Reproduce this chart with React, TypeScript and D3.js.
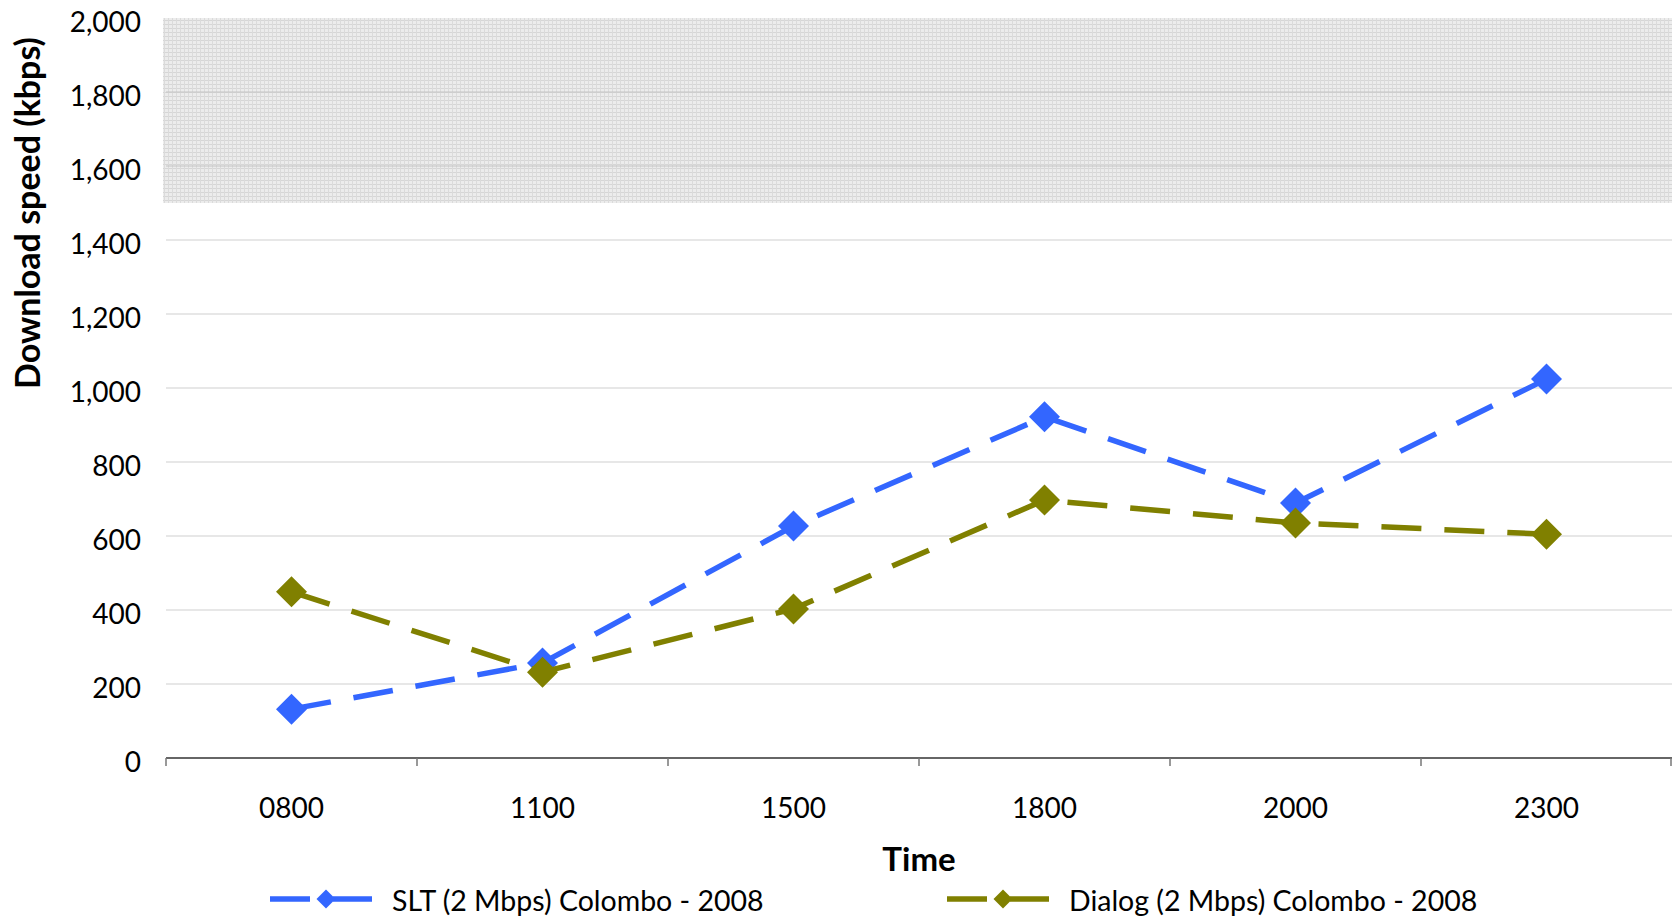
import { useEffect, useRef } from 'react';
import * as d3 from 'd3';

const times = ['0800', '1100', '1500', '1800', '2000', '2300'];
const sltSpeeds = [132, 257, 627, 922, 689, 1024];
const dialogSpeeds = [449, 232, 403, 697, 635, 605];
const yTicks = [0, 200, 400, 600, 800, 1000, 1200, 1400, 1600, 1800, 2000];
const shadedBand = [1500, 2000];
const seriesNames = ['SLT (2 Mbps) Colombo - 2008', 'Dialog (2 Mbps) Colombo - 2008'];
const seriesColors = ['#3366ff', '#808000'];

const FONT = 'Lato, "Open Sans", sans-serif';

export default function App() {
  const ref = useRef<HTMLDivElement>(null);

  useEffect(() => {
    const el = ref.current;
    if (!el) return;
    el.innerHTML = '';

    const w = 1672;
    const h = 921;
    const m = { t: 18, r: 0, b: 163, l: 166 };

    const svg = d3.select(el)
      .append('svg')
      .attr('width', w)
      .attr('height', h)
      .style('position', 'absolute')
      .style('left', '0px')
      .style('top', '0px')
      .style('font-family', FONT);

    const x = d3.scaleBand<string>()
      .domain(times)
      .range([m.l, w - m.r])
      .padding(0);

    const y = d3.scaleLinear()
      .domain([0, 2000])
      .range([h - m.b, m.t]);

    // hatched band pattern
    const defs = svg.append('defs');
    const pat = defs.append('pattern')
      .attr('id', 'hatch')
      .attr('patternUnits', 'userSpaceOnUse')
      .attr('width', 4)
      .attr('height', 4);
    pat.append('rect').attr('width', 4).attr('height', 4).attr('fill', '#ececec');
    pat.append('rect').attr('width', 4).attr('height', 1).attr('fill', '#d6d6d6');
    pat.append('rect').attr('width', 1).attr('height', 4).attr('fill', '#dbdbdb');

    svg.append('rect')
      .attr('x', m.l - 3)
      .attr('y', y(shadedBand[1]))
      .attr('width', w - m.r - m.l + 3)
      .attr('height', y(shadedBand[0]) - y(shadedBand[1]))
      .attr('fill', 'url(#hatch)');

    // gridlines
    svg.append('g')
      .selectAll('line')
      .data(yTicks.filter(d => d > 0 && d < 2000))
      .join('line')
      .attr('x1', m.l)
      .attr('x2', w - m.r)
      .attr('y1', d => y(d))
      .attr('y2', d => y(d))
      .attr('stroke', d => (d >= shadedBand[0] ? '#c4c4c4' : '#d0d0d0'))
      .attr('stroke-width', 1.2);

    // y tick labels
    svg.append('g')
      .selectAll('text')
      .data(yTicks)
      .join('text')
      .attr('x', 141)
      .attr('y', d => y(d) + 14)
      .attr('text-anchor', 'end')
      .attr('font-size', 28)
      .attr('fill', '#000')
      .text(d => d3.format(',')(d));

    // x axis
    const bounds = [...times.map(t => x(t) as number), w - m.r];
    svg.append('line')
      .attr('x1', m.l)
      .attr('x2', w - m.r)
      .attr('y1', y(0))
      .attr('y2', y(0))
      .attr('stroke', '#333')
      .attr('stroke-width', 1.5);
    svg.append('g')
      .selectAll('line')
      .data(bounds)
      .join('line')
      .attr('x1', d => Math.min(d, w - 1))
      .attr('x2', d => Math.min(d, w - 1))
      .attr('y1', y(0))
      .attr('y2', y(0) + 8)
      .attr('stroke', '#777')
      .attr('stroke-width', 1.5);

    svg.append('g')
      .selectAll('text')
      .data(times)
      .join('text')
      .attr('x', d => (x(d) as number) + x.bandwidth() / 2)
      .attr('y', y(0) + 60)
      .attr('text-anchor', 'middle')
      .attr('font-size', 28)
      .text(d => d);

    // axis titles
    svg.append('text')
      .attr('x', (m.l + w - m.r) / 2)
      .attr('y', 871)
      .attr('text-anchor', 'middle')
      .attr('font-size', 33)
      .attr('font-weight', 'bold')
      .text('Time');

    svg.append('text')
      .attr('transform', 'translate(40,213) rotate(-90)')
      .attr('text-anchor', 'middle')
      .attr('font-size', 34)
      .attr('font-weight', 'bold')
      .text('Download speed (kbps)');

    // series
    const seriesData = [sltSpeeds, dialogSpeeds];
    const diamond = (r: number) => `M0,${-r}L${r},0L0,${r}L${-r},0Z`;
    const line = d3.line<number>()
      .x((_, i) => (x(times[i]) as number) + x.bandwidth() / 2)
      .y(d => y(d));

    seriesData.forEach((vals, si) => {
      const g = svg.append('g');
      g.append('path')
        .datum(vals)
        .attr('d', line)
        .attr('fill', 'none')
        .attr('stroke', seriesColors[si])
        .attr('stroke-width', 5.5)
        .attr('stroke-dasharray', '40,23');
      g.selectAll('path.pt')
        .data(vals)
        .join('path')
        .attr('class', 'pt')
        .attr('d', diamond(15.5))
        .attr('transform', (d, i) => `translate(${(x(times[i]) as number) + x.bandwidth() / 2},${y(d)})`)
        .attr('fill', seriesColors[si]);
    });

    // legend
    const legendX = [270, 947];
    const legendY = 899;
    seriesNames.forEach((name, si) => {
      const lg = svg.append('g').attr('transform', `translate(${legendX[si]},${legendY})`);
      lg.append('line')
        .attr('x1', 0).attr('x2', 102)
        .attr('y1', 0).attr('y2', 0)
        .attr('stroke', seriesColors[si])
        .attr('stroke-width', 5.5)
        .attr('stroke-dasharray', '40,23');
      lg.append('path')
        .attr('d', diamond(9.5))
        .attr('transform', 'translate(56,0)')
        .attr('fill', seriesColors[si]);
      lg.append('text')
        .attr('x', 122)
        .attr('y', 12)
        .attr('font-size', 28.5)
        .text(name);
    });
  }, []);

  return <div ref={ref} />;
}
